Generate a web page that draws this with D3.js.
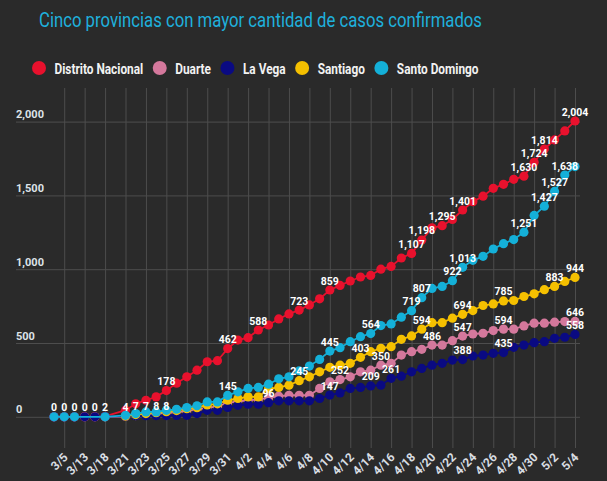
<!DOCTYPE html>
<html><head><meta charset="utf-8">
<script src="https://cdn.jsdelivr.net/npm/d3@7"></script>
<style>body{margin:0;background:#2a2a2a;} svg{display:block;}</style>
</head><body>
<svg id="c" width="607" height="481"></svg>
<script>
const title = "Cinco provincias con mayor cantidad de casos confirmados";
const dates = ["3/1","3/5","3/10","3/13","3/16","3/18","3/19","3/21","3/22","3/23","3/24","3/25","3/26","3/27","3/28","3/29","3/30","3/31",
  "4/1","4/2","4/3","4/4","4/5","4/6","4/7","4/8","4/9","4/10","4/11","4/12","4/13","4/14","4/15","4/16","4/17","4/18","4/19","4/20",
  "4/21","4/22","4/23","4/24","4/25","4/26","4/27","4/28","4/29","4/30","5/1","5/2","5/3","5/4"];
const seriesNames = ["Distrito Nacional","Duarte","La Vega","Santiago","Santo Domingo"];
const seriesColors = ["#e8112d","#d4789c","#0a0a82","#f5c000","#14b0d8"];
const distritoNacional = [0,0,0,1,1,3,null,45,88,112,135,178,228,271,316,373,380,462,520,536,588,622,663,697,723,758,799,859,890,920,947,958,1000,1019,1076,1107,1198,1280,1295,1337,1401,1457,1495,1548,1575,1609,1630,1724,1814,1876,1937,2004];
const duarte = [0,0,0,0,0,0,null,2,8,15,20,25,30,40,50,60,70,95,105,112,118,128,140,146,146,146,192,237,252,271,305,316,350,362,418,441,457,486,486,516,547,561,566,584,594,594,616,634,634,641,645,646];
const laVega = [0,0,0,0,0,2,null,4,7,7,8,8,9,10,22,44,44,63,78,85,85,96,108,108,108,108,124,147,162,192,199,209,214,261,275,305,328,350,362,384,388,412,418,430,435,471,486,502,509,532,539,558];
const santiago = [null,null,null,null,null,null,null,5,15,22,28,35,42,55,62,80,88,112,124,135,135,190,199,214,245,271,305,335,350,362,403,441,464,475,525,548,594,638,638,668,694,720,754,765,785,788,815,833,861,883,917,944];
const santoDomingo = [0,0,0,null,null,0,null,10,22,33,33,44,51,63,75,101,101,145,169,192,199,221,257,271,312,344,389,445,468,509,543,564,618,629,675,719,807,870,883,922,1013,1060,1087,1137,1173,1201,1251,1364,1427,1527,1638,1695];
// indices of points that carry a data label
const labelsDN = [11,17,20,24,27,35,36,38,40,46,47,48,51];
const labelsDuarte = [28,32,37,40,44,51];
const labelsLaVega = [0,1,2,3,4,5,7,8,9,10,11,21,27,31,33,40,44,51];
const labelsSantiago = [24,30,36,40,44,49,51];
const labelsSD = [17,27,31,35,36,39,40,46,48,49,50];
const yTicks = [0,500,1000,1500,2000];

const seriesValues = [distritoNacional, duarte, laVega, santiago, santoDomingo];
const seriesLabels = [labelsDN, labelsDuarte, labelsLaVega, labelsSantiago, labelsSD];
const series = seriesNames.map((n,k)=>({name:n,color:seriesColors[k],values:seriesValues[k],labels:seriesLabels[k]}));

const W=607,H=481;
const svg=d3.select("#c");
svg.append("rect").attr("width",W).attr("height",H).attr("fill","#2a2a2a");

const x=d3.scalePoint().domain(dates).range([54,575]);
const y=d3.scaleLinear().domain([0,2000]).range([416.8,121.6]);
const fmt=d3.format(",");
const FONT="Roboto, 'Noto Sans', sans-serif";

// title
const t=svg.append("text").attr("x",260.5).attr("y",27).attr("text-anchor","middle")
  .attr("font-family",FONT).attr("font-size",20.5).attr("fill","#1fb0dc").text(title);
t.attr("textLength",443).attr("lengthAdjust","spacingAndGlyphs");

// legend
let lx=39;
series.forEach((s,k)=>{
  svg.append("circle").attr("cx",lx).attr("cy",68).attr("r",7).attr("fill",s.color);
  const tx=svg.append("text").attr("x",lx+15.5).attr("y",73.5).attr("font-family",FONT).attr("font-weight","bold")
    .attr("font-size",15).attr("fill","#f2f2f2").text(s.name);
  const w=tx.node().getComputedTextLength()*0.79;
  tx.attr("textLength",w).attr("lengthAdjust","spacingAndGlyphs");
  lx=lx+15.5+w+16.5;
});

// x axis with vertical grid
const xAxis=d3.axisBottom(x).tickValues(dates.filter((d,i)=>i%2===1)).tickSize(-(448-88)).tickSizeOuter(0);
const gx=svg.append("g").attr("transform","translate(0,448)").call(xAxis);
gx.select(".domain").remove();
gx.selectAll("line").attr("stroke","#4d4d4d").attr("stroke-width",1);
gx.selectAll("text").attr("font-family",FONT).attr("font-weight","bold").attr("font-size",12).attr("fill","#d8dde2")
  .attr("text-anchor","end").attr("dy",0).attr("y",0)
  .attr("transform","translate(4,10) rotate(-45)");

// y axis with horizontal grid
const yAxis=d3.axisLeft(y).tickValues(yTicks).tickSize(-(580-16)).tickFormat(fmt);
const gy=svg.append("g").attr("transform","translate(16,0)").call(yAxis);
gy.select(".domain").remove();
gy.selectAll("line").attr("stroke","#4d4d4d").attr("stroke-width",1);
gy.selectAll("text").attr("font-family",FONT).attr("font-weight","bold").attr("font-size",11).attr("fill","#dde3e8")
  .attr("text-anchor","start").attr("x",0).attr("dy",-4);

// series
const line=d3.line().x(d=>x(d.date)).y(d=>y(d.v));
series.forEach(s=>{
  const pts=dates.map((d,i)=>({date:d,v:s.values[i],i})).filter(p=>p.v!==null);
  svg.append("path").datum(pts).attr("d",line).attr("fill","none").attr("stroke",s.color).attr("stroke-width",1.8);
  svg.append("g").selectAll("circle").data(pts).join("circle")
    .attr("cx",d=>x(d.date)).attr("cy",d=>y(d.v)).attr("r",4.6).attr("fill",s.color);
});
// data labels
series.forEach(s=>{
  svg.append("g").selectAll("text").data(s.labels).join("text")
    .attr("x",i=>x(dates[i])).attr("y",i=>y(s.values[i])-5.5)
    .attr("text-anchor","middle").attr("font-family",FONT).attr("font-weight","bold").attr("font-size",10.5)
    .attr("fill","#ffffff").text(i=>fmt(s.values[i]));
});
</script>
</body></html>
